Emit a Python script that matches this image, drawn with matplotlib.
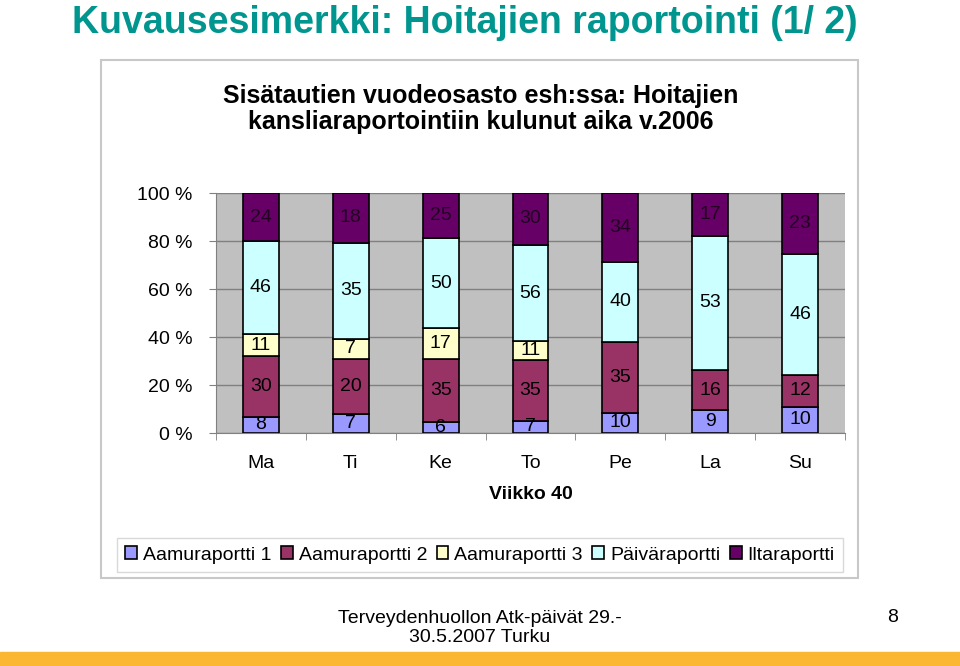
import numpy as np
import matplotlib.pyplot as plt
from matplotlib.patches import Rectangle

plt.rcParams['font.family'] = ['Liberation Sans', 'DejaVu Sans']

# Data
paivat = ["Ma", "Ti", "Ke", "To", "Pe", "La", "Su"]
sarjat = ["Aamuraportti 1", "Aamuraportti 2", "Aamuraportti 3", "Päiväraportti", "Iltaraportti"]
aamu1 = [8, 7, 6, 7, 10, 9, 10]
aamu2 = [30, 20, 35, 35, 35, 16, 12]
aamu3 = [11, 7, 17, 11, 0, 0, 0]
paiva = [46, 35, 50, 56, 40, 53, 46]
ilta = [24, 18, 25, 30, 34, 17, 23]
varit = ["#9999FF", "#993366", "#FFFFCC", "#CCFFFF", "#660066"]

W, H = 960, 666
fig = plt.figure(figsize=(W / 100, H / 100), dpi=100)

def fx(px):
    return px / W

def fy(py):
    return 1 - py / H

FS = 14

# Otsikko
fig.text(fx(465), fy(33), "Kuvausesimerkki: Hoitajien raportointi (1/ 2)",
         ha='center', va='baseline', fontsize=27, fontweight='bold', color='#00968F')

# Kaavion kehys
fig.patches.append(Rectangle((fx(101), fy(578)), fx(858) - fx(101), fy(60) - fy(578),
                             transform=fig.transFigure, fill=False, edgecolor='#C8C8C8', lw=1.5))
fig.text(fx(481), fy(109), "Sisätautien vuodeosasto esh:ssa: Hoitajien\nkansliaraportointiin kulunut aika v.2006",
         ha='center', va='center', fontsize=18, fontweight='bold', linespacing=1.15)

ax = fig.add_axes([fx(216), fy(433), fx(845) - fx(216), fy(193) - fy(433)])
ax.set_facecolor('#C0C0C0')

data = np.array([aamu1, aamu2, aamu3, paiva, ilta], dtype=float)
osuus = data / data.sum(axis=0) * 100
x = np.arange(len(paivat))
pohja = np.zeros(len(paivat))
for i, nimi in enumerate(sarjat):
    palkit = ax.bar(x, osuus[i], 0.4, bottom=pohja, color=varit[i], edgecolor='black',
                    linewidth=1.2, label=nimi, zorder=3)
    for j, b in enumerate(palkit):
        if data[i, j] > 0:
            ax.text(b.get_x() + b.get_width() / 2, pohja[j] + osuus[i, j] / 2, str(int(data[i, j])),
                    ha='center', va='center', fontsize=FS,
                    color='#220022' if i == 4 else 'black', zorder=4)
    pohja += osuus[i]

ax.set_xlim(-0.5, len(paivat) - 0.5)
ax.set_ylim(0, 100)
ax.set_yticks(np.arange(0, 101, 20))
ax.set_yticklabels([f"{v} %" for v in range(0, 101, 20)], fontsize=FS)
ax.set_xticks(x)
ax.set_xticklabels(paivat, fontsize=FS)
ax.set_xticks(np.arange(-0.5, len(paivat)), minor=True)
ax.tick_params(axis='x', which='major', length=0, pad=16)
ax.tick_params(axis='x', which='minor', length=5, color='#808080')
ax.tick_params(axis='y', length=5, color='#808080', pad=12)
ax.grid(axis='y', color='#808080', lw=1, zorder=1)
for s in ['top', 'right']:
    ax.spines[s].set_visible(False)
ax.spines['left'].set_color('#808080')
ax.spines['bottom'].set_color('#808080')
ax.set_xlabel("Viikko 40", fontsize=FS, fontweight='bold', labelpad=10)

h, l = ax.get_legend_handles_labels()
leg = fig.legend(h, l, loc='center', bbox_to_anchor=(fx(480), fy(555)), ncol=5, fontsize=FS,
                 frameon=True, fancybox=False, edgecolor='#D0D0D0', handlelength=0.6,
                 handleheight=0.6, handletextpad=0.3, columnspacing=0.5, borderpad=0.45)

# Alatunniste
fig.text(fx(480), fy(628), "Terveydenhuollon Atk-päivät 29.-\n30.5.2007 Turku", ha='center', va='center',
         fontsize=FS, linespacing=1.1)
fig.text(fx(893), fy(618), "8", ha='center', va='center', fontsize=FS)
fig.patches.append(Rectangle((0, 0), 1, fy(652), transform=fig.transFigure, color='#FBB731'))

fig.savefig("out.png", dpi=100)
